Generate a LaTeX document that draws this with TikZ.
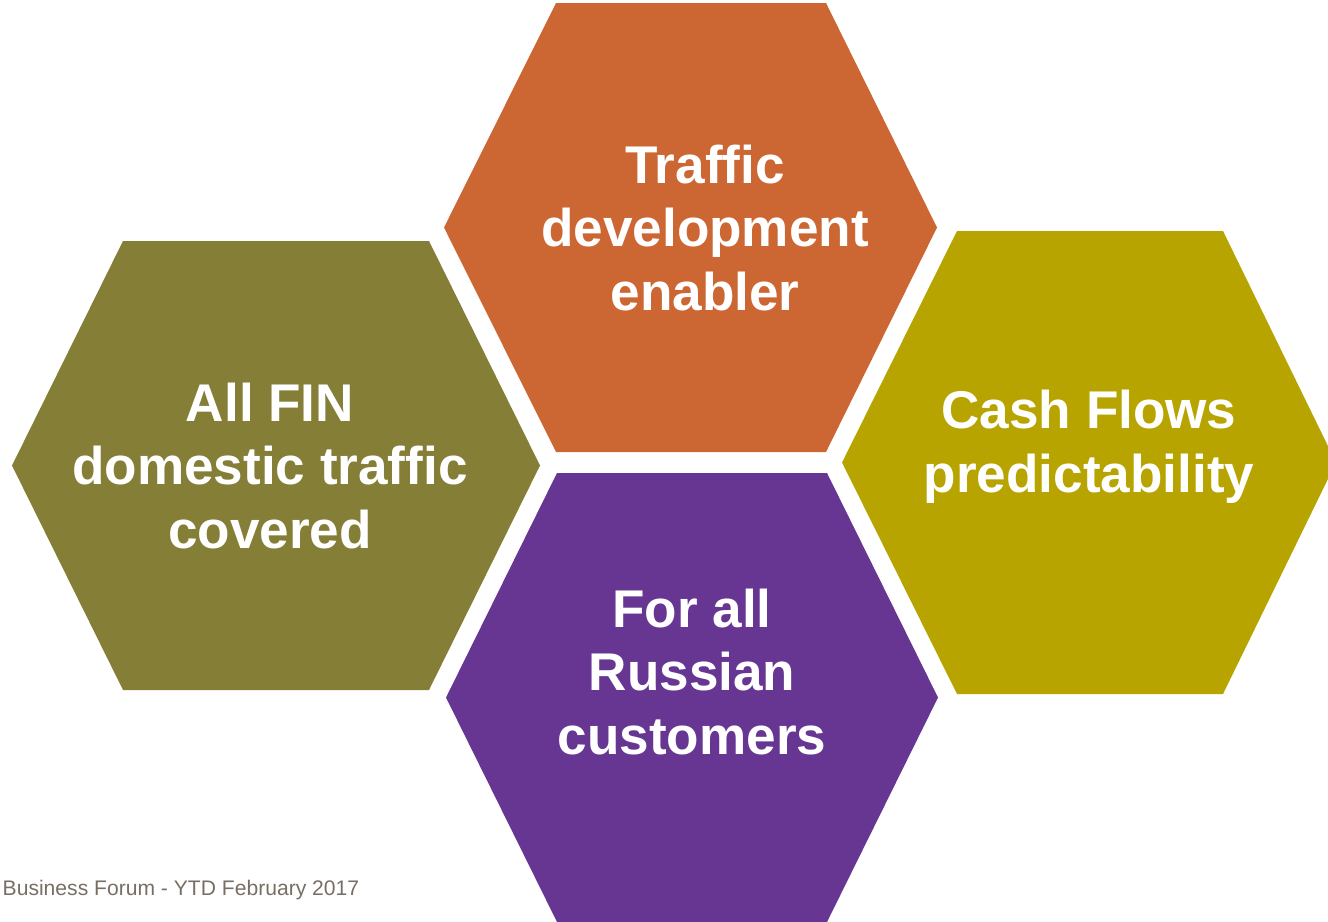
\documentclass[tikz,border=0pt]{standalone}
\usepackage{fontspec}
\setmainfont{Liberation Sans}
\usetikzlibrary{positioning}

\definecolor{hexolive}{RGB}{133,126,55}
\definecolor{hexorange}{RGB}{204,102,51}
\definecolor{hexyellow}{RGB}{183,164,0}
\definecolor{hexpurple}{RGB}{103,54,147}
\definecolor{footgray}{RGB}{120,110,100}

\tikzset{
  hexlabel/.style={text=white, align=center, inner sep=0pt,
    font=\fontsize{15.1}{18.1}\selectfont\bfseries},
  footnote/.style={text=footgray, inner sep=0pt,
    font=\fontsize{6}{7}\selectfont}
}

\begin{document}
\begin{tikzpicture}[x=0.01cm, y=-0.01cm]
    \useasboundingbox (0,0) rectangle (1328,921);

    % Left cell
    \fill[hexolive] (12,465.5) -- (123,241) -- (429,241) -- (540,465.5)
        -- (429,690) -- (123,690) -- cycle;
    \node[hexlabel] (fin) at (270,466) {All FIN\\domestic traffic\\covered};

    % Top cell
    \fill[hexorange] (444,227.5) -- (556,3) -- (826,3) -- (937,227.5)
        -- (826,452) -- (556,452) -- cycle;
    \node[hexlabel] (traffic) at (705,228) {Traffic\\development\\enabler};

    % Bottom cell
    \fill[hexpurple] (446,697.5) -- (557,473) -- (827,473) -- (938,697.5)
        -- (827,922) -- (557,922) -- cycle;
    \node[hexlabel] (russian) at (692,672) {For all\\Russian\\customers};

    % Right cell, runs past the edge
    \fill[hexyellow] (842,462.5) -- (957,231) -- (1223,231) -- (1336,462.5)
        -- (1223,694) -- (957,694) -- cycle;
    \node[hexlabel] (cash) at (1089,447) {Cash Flows\\predictability};

    % Footer
    \node[footnote, anchor=base west] (forum) at (2,895)
        {Business Forum - YTD February 2017};
\end{tikzpicture}
\end{document}
